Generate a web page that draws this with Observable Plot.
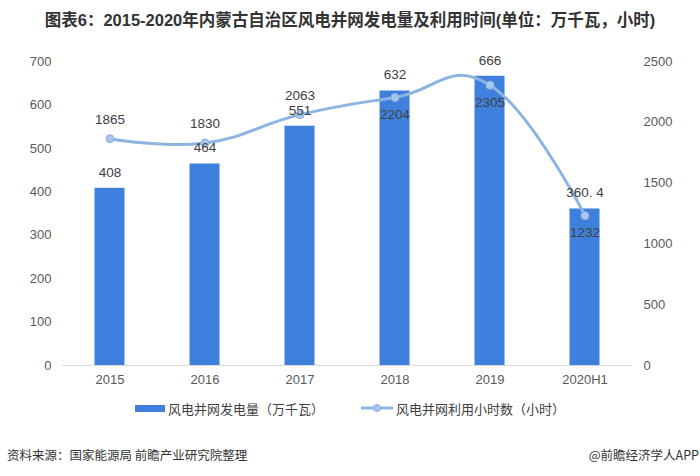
<!DOCTYPE html>
<html>
<head>
<meta charset="utf-8">
<script src="https://cdn.jsdelivr.net/npm/d3@7"></script>
<script src="https://cdn.jsdelivr.net/npm/@observablehq/plot@0.6"></script>
<style>
  html, body { margin: 0; padding: 0; background: #fff; }
  body { width: 700px; height: 476px; position: relative; overflow: hidden;
         font-family: "Liberation Sans", Arial, "Noto Sans CJK SC", sans-serif; }
  #title { position: absolute; left: 0; top: 8px; width: 700px; text-align: center;
           font-family: "Liberation Sans Narrow", "Liberation Sans", "Noto Sans CJK SC", sans-serif;
           font-weight: bold; font-size: 16.5px; color: #333; line-height: 24px; }
  #chart { position: absolute; left: 0; top: 40px; }
  #legend { position: absolute; left: 0; top: 398px; width: 700px; height: 20px;
            display: flex; justify-content: center; align-items: center;
            font-family: "Noto Sans CJK SC", sans-serif; font-size: 13px; color: #404040; }
  .item { display: flex; align-items: center; }
  .sw-bar { width: 30px; height: 7px; background: #3f80dc; margin-right: 3px; }
  .sw-line { width: 32px; height: 10px; margin-right: 3px; }
  #footer-l { position: absolute; left: 7px; top: 445px; font-family: "Noto Sans CJK SC", sans-serif;
              font-size: 12.5px; color: #333; }
  #footer-r { position: absolute; right: 1px; top: 445px; font-family: "Noto Sans CJK SC", sans-serif;
              font-size: 12.5px; color: #333; }
</style>
</head>
<body>
<div id="title">图表6：2015-2020年内蒙古自治区风电并网发电量及利用时间(单位：万千瓦，小时)</div>
<div id="chart"></div>
<div id="legend">
  <div class="item"><div class="sw-bar"></div><span>风电并网发电量（万千瓦）</span></div>
  <div class="item" style="margin-left:37px"><svg class="sw-line" viewBox="0 0 32 10"><line x1="0" y1="5" x2="32" y2="5" stroke="#8db3e2" stroke-width="3"/><circle cx="16" cy="5" r="3.5" fill="#a9c6ec" stroke="#8db3e2"/></svg><span>风电并网利用小时数（小时）</span></div>
</div>
<div id="footer-l">资料来源：国家能源局 前瞻产业研究院整理</div>
<div id="footer-r">@前瞻经济学人APP</div>
<script>
const years = ["2015", "2016", "2017", "2018", "2019", "2020H1"];
const capacity = [408, 464, 551, 632, 666, 360.4];
const capacityLabels = ["408", "464", "551", "632", "666", "360. 4"];
const hours = [1865, 1830, 2063, 2204, 2305, 1232];
const leftTicks = [0, 100, 200, 300, 400, 500, 600, 700];
const rightTicks = [0, 500, 1000, 1500, 2000, 2500];

const leftMax = 700, rightMax = 2500;
const k = leftMax / rightMax;

const data = years.map((y, i) => ({
  year: y, cap: capacity[i], capLabel: capacityLabels[i], h: hours[i], hs: hours[i] * k
}));
const above = data.filter(d => d.hs >= d.cap);
const below = data.filter(d => d.hs < d.cap);

const barColor = "#3f80dc";
const lineColor = "#8db3e2";
const textColor = "#404040";
const axisColor = "#595959";

const chart = Plot.plot({
  width: 700,
  height: 360,
  marginTop: 21,
  marginBottom: 35,
  marginLeft: 62,
  marginRight: 68,
  style: { fontFamily: "'Liberation Sans', Arial, sans-serif", fontSize: "13px", color: axisColor, background: "transparent" },
  x: { domain: years, padding: 0 },
  y: { domain: [0, leftMax] },
  marks: [
    Plot.ruleY([0], { stroke: "#d9d9d9", strokeWidth: 1 }),
    Plot.barY(data, { x: "year", y: "cap", fill: barColor, insetLeft: 32.5, insetRight: 32.5 }),
    Plot.line(data, { x: "year", y: "hs", curve: "cardinal", tension: -0.3, stroke: lineColor, strokeWidth: 3 }),
    Plot.dot(data, { x: "year", y: "hs", r: 4, fill: "#a9c6ec", stroke: lineColor, strokeWidth: 1 }),
    Plot.text(data, { x: "year", y: "cap", text: "capLabel", dy: -16, fill: textColor, fontSize: 13.5 }),
    Plot.text(above, { x: "year", y: "hs", text: d => String(d.h), dy: -19, fill: textColor, fontSize: 13.5 }),
    Plot.text(below, { x: "year", y: "hs", text: d => String(d.h), dy: 17, fill: textColor, fontSize: 13.5 }),
    Plot.axisY({ ticks: leftTicks, tickSize: 0, tickPadding: 11, fill: axisColor, label: null, fontSize: 13 }),
    Plot.axisY({ anchor: "right", ticks: rightTicks.map(v => v * k), tickFormat: d => String(Math.round(d / k)),
                 tickSize: 0, tickPadding: 11, fill: axisColor, label: null, fontSize: 13 }),
    Plot.axisX({ tickSize: 0, tickPadding: 9, fill: axisColor, label: null, fontSize: 13,
                 fontFamily: "'Liberation Sans Narrow', 'Liberation Sans', sans-serif" })
  ]
});
document.getElementById("chart").appendChild(chart);
</script>
</body>
</html>
